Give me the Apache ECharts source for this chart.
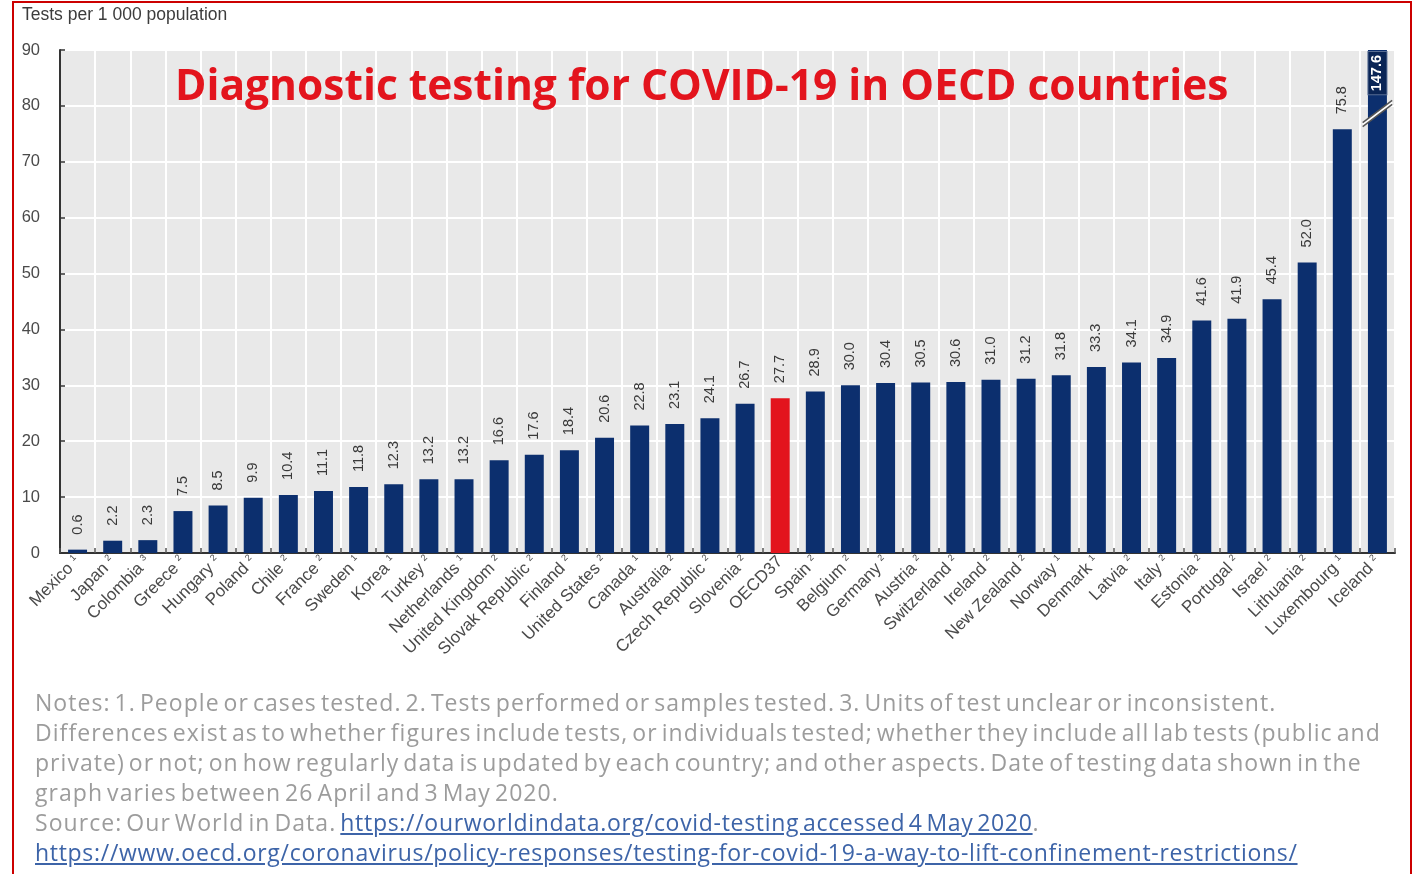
<!DOCTYPE html>
<html>
<head>
<meta charset="utf-8">
<title>Diagnostic testing for COVID-19 in OECD countries</title>
<script src="https://cdn.jsdelivr.net/npm/echarts@6/dist/echarts.min.js"></script>
<style>
  html, body { margin: 0; padding: 0; background: #ffffff; }
  #wrap { position: relative; width: 1427px; height: 874px; overflow: hidden; background: #fff; }
  #frame { position: absolute; left: 12px; top: 1px; width: 1400px; height: 900px; border: 2px solid #cc0000; box-sizing: border-box; pointer-events: none; z-index: 3; }
  #chart { position: absolute; left: 0; top: 0; width: 1427px; height: 874px; }
  #notes { position: absolute; left: 35px; top: 687px; font-family: "Open Sans", Lato, sans-serif; font-size: 23px; line-height: 30px; color: #9c9c9c; white-space: nowrap; z-index: 2; letter-spacing: 1.05px; word-spacing: -3px; }
  #notes a { color: #3d64a8; text-decoration: underline; letter-spacing: 0.7px; }
</style>
</head>
<body>
<div id="wrap">
  <div id="chart"></div>
  <div id="notes">
    Notes: 1. People or cases tested. 2. Tests performed or samples tested. 3. Units of test unclear or inconsistent.<br>
    Differences exist as to whether figures include tests, or individuals tested; whether they include all lab tests (public and<br>
    private) or not; on how regularly data is updated by each country; and other aspects. Date of testing data shown in the<br>
    graph varies between 26 April and 3 May 2020.<br>
    Source: Our World in Data. <a>https://ourworldindata.org/covid-testing accessed 4 May 2020</a>.<br>
    <a>https://www.oecd.org/coronavirus/policy-responses/testing-for-covid-19-a-way-to-lift-confinement-restrictions/</a>
  </div>
  <div id="frame"></div>
</div>
<script>
// Tests per 1 000 population, sorted ascending
const countries = ['Mexico', 'Japan', 'Colombia', 'Greece', 'Hungary', 'Poland', 'Chile', 'France', 'Sweden', 'Korea',
  'Turkey', 'Netherlands', 'United Kingdom', 'Slovak Republic', 'Finland', 'United States', 'Canada', 'Australia',
  'Czech Republic', 'Slovenia', 'OECD37', 'Spain', 'Belgium', 'Germany', 'Austria', 'Switzerland', 'Ireland',
  'New Zealand', 'Norway', 'Denmark', 'Latvia', 'Italy', 'Estonia', 'Portugal', 'Israel', 'Lithuania', 'Luxembourg', 'Iceland'];
// Note number attached to each country name ('' = none)
const noteRefs = ['1', '2', '3', '2', '2', '2', '2', '2', '1', '1',
  '2', '1', '2', '2', '2', '2', '1', '2',
  '2', '2', '', '2', '2', '2', '2', '2', '2',
  '2', '1', '1', '2', '2', '2', '2', '2', '2', '1', '2'];
const testsPer1000 = [0.6, 2.2, 2.3, 7.5, 8.5, 9.9, 10.4, 11.1, 11.8, 12.3,
  13.2, 13.2, 16.6, 17.6, 18.4, 20.6, 22.8, 23.1,
  24.1, 26.7, 27.7, 28.9, 30.0, 30.4, 30.5, 30.6, 31.0,
  31.2, 31.8, 33.3, 34.1, 34.9, 41.6, 41.9, 45.4, 52.0, 75.8, 147.6];
const yTicks = [0, 10, 20, 30, 40, 50, 60, 70, 80, 90];
const highlight = 'OECD37';
const axisBreakAt = 79; // where the off-scale bar is cut

const yMax = yTicks[yTicks.length - 1];
const NAVY = '#0c2f6e';
const RED = '#e3141d';
const LABEL_FONT = '"Liberation Sans", Arial, sans-serif';

const barData = testsPer1000.map((v, i) => {
  const item = { value: v };
  if (countries[i] === highlight) {
    item.itemStyle = { color: RED };
  }
  if (v > yMax) {
    item.label = {
      position: 'insideTop',
      rotate: 90,
      align: 'right',
      verticalAlign: 'middle',
      distance: 2,
      color: '#ffffff',
      fontWeight: 'bold',
      backgroundColor: '#0a2556',
      borderColor: '#5a6f95',
      borderWidth: 1,
      padding: [2, 3, 1, 3]
    };
  }
  return item;
});

// Break marker on every bar running off the scale
const breakData = testsPer1000
  .map((v, i) => (v > yMax ? [i, axisBreakAt] : null))
  .filter(d => d !== null);

const chart = echarts.init(document.getElementById('chart'), null, { renderer: 'canvas' });

chart.setOption({
  animation: false,
  backgroundColor: 'transparent',
  textStyle: { fontFamily: LABEL_FONT },
  title: {
    text: 'Diagnostic testing for COVID-19 in OECD countries',
    left: 170,
    top: 61,
    textStyle: { fontFamily: '"Open Sans", Lato, sans-serif', fontWeight: 'bold', fontSize: 42.5, color: '#e3141d' },
    z: 10
  },
  graphic: [{
    type: 'text',
    left: 22,
    top: 6,
    style: {
      text: 'Tests per 1 000 population',
      font: '17.5px ' + LABEL_FONT,
      fill: '#3c3c3c'
    }
  }],
  grid: {
    left: 60, right: 32, top: 50, bottom: 321,
    show: true, backgroundColor: '#e9e9e9', borderWidth: 0
  },
  xAxis: {
    type: 'category',
    data: countries,
    axisLine: { lineStyle: { color: '#333', width: 2 } },
    axisTick: { show: true, inside: true, length: 5, interval: 0, lineStyle: { color: '#555', width: 1.5 } },
    splitLine: { show: true, interval: 0, lineStyle: { color: '#ffffff', width: 2 } },
    axisLabel: {
      interval: 0,
      rotate: 45,
      margin: 6,
      color: '#4a4a4a',
      fontSize: 17,
      fontFamily: LABEL_FONT,
      formatter: (name) => {
        const ref = noteRefs[countries.indexOf(name)];
        return ref ? '{n|' + name + '} {s|' + ref + '}' : '{n|' + name + '}';
      },
      rich: {
        n: { fontSize: 17, color: '#4a4a4a', fontFamily: LABEL_FONT },
        s: { fontSize: 9, color: '#4a4a4a', verticalAlign: 'top', fontFamily: LABEL_FONT }
      }
    }
  },
  yAxis: {
    type: 'value',
    min: 0,
    max: yMax,
    interval: 10,
    axisLine: { show: true, lineStyle: { color: '#333', width: 2 } },
    axisTick: { show: true, inside: true, length: 5, lineStyle: { color: '#333', width: 1.5 } },
    splitLine: { show: true, lineStyle: { color: '#ffffff', width: 2 } },
    axisLabel: {
      margin: 20,
      color: '#4a4a4a',
      fontSize: 16.5,
      formatter: (v) => (yTicks.indexOf(v) >= 0 ? String(v) : '')
    }
  },
  series: [{
    type: 'bar',
    data: barData,
    barWidth: '54%',
    clip: true,
    itemStyle: { color: NAVY },
    label: {
      show: true,
      position: 'top',
      rotate: 90,
      align: 'left',
      verticalAlign: 'middle',
      distance: 15,
      fontSize: 14.5,
      color: '#3a3a3a',
      formatter: (p) => p.value.toFixed(1)
    },
    z: 2
  }, {
    type: 'custom',
    data: breakData,
    z: 5,
    silent: true,
    renderItem: (params, api) => {
      const c = api.coord([api.value(0), api.value(1)]);
      const half = api.size([1, 0])[0] * 0.42;
      const rise = half * 0.75;
      const gap = 4;
      const x0 = c[0] - half, x1 = c[0] + half;
      return {
        type: 'group',
        children: [{
          type: 'polygon',
          shape: { points: [[x0, c[1] + rise], [x1, c[1] - rise], [x1, c[1] - rise + gap], [x0, c[1] + rise + gap]] },
          style: { fill: '#ffffff' }
        }, {
          type: 'line',
          shape: { x1: x0, y1: c[1] + rise, x2: x1, y2: c[1] - rise },
          style: { stroke: '#555', lineWidth: 1.5 }
        }, {
          type: 'line',
          shape: { x1: x0, y1: c[1] + rise + gap, x2: x1, y2: c[1] - rise + gap },
          style: { stroke: '#555', lineWidth: 1.5 }
        }]
      };
    }
  }]
});
</script>
</body>
</html>
